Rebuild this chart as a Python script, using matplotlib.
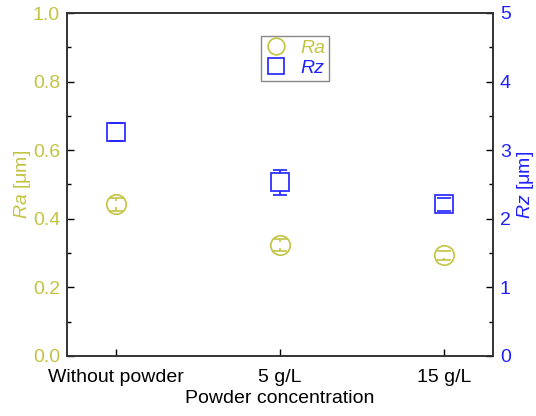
import numpy as np
import matplotlib
matplotlib.use('Agg')
import matplotlib.pyplot as plt
from matplotlib.lines import Line2D

plt.rcParams['font.family'] = ['Liberation Sans', 'DejaVu Sans']
plt.rcParams['mathtext.fontset'] = 'custom'
plt.rcParams['mathtext.rm'] = 'Liberation Sans'
plt.rcParams['mathtext.it'] = 'Liberation Sans:italic'

# dados
categories = ['Without powder', '5 g/L', '15 g/L']
ra_values = [0.442, 0.324, 0.294]
ra_errors = [0.018, 0.017, 0.013]
rz_values = [3.27, 2.53, 2.21]
rz_errors = [0.13, 0.185, 0.10]

cor_ra = '#c3c344'
cor_rz = '#2020ff'

fig = plt.figure(figsize=(5.36, 4.16), dpi=100)
ax_h_px = 343
ax1 = fig.add_axes([67 / 536, 60 / 416, 426 / 536, ax_h_px / 416])
ax2 = ax1.twinx()

x = np.arange(len(categories))

ax1.set_xlim(-0.3, 2.3)
ax1.set_ylim(0, 1.0)
ax2.set_ylim(0, 5)


def pontos(ax, xs, ys, errs, marker, ms, cor, gap_px):
    # marcador vazio + barras de erro que param antes do centro
    ax.plot(xs, ys, ls='none', marker=marker, ms=ms, mfc='none', mec=cor, mew=1.2)
    ax.errorbar(xs, ys, yerr=errs, fmt='none', ecolor=cor, elinewidth=0,
                capsize=5, capthick=1.2)
    y0, y1 = ax.get_ylim()
    gap = gap_px * (y1 - y0) / ax_h_px
    for xi, yi, ei in zip(xs, ys, errs):
        if ei > gap:
            ax.vlines(xi, yi + gap, yi + ei, color=cor, lw=1.2)
            ax.vlines(xi, yi - ei, yi - gap, color=cor, lw=1.2)


pontos(ax1, x, ra_values, ra_errors, 'o', 14, cor_ra, 3)
pontos(ax2, x, rz_values, rz_errors, 's', 12.5, cor_rz, 9)

fs = 14
ax1.set_xticks(x)
ax1.set_xticklabels(categories, fontsize=fs)
ax1.set_yticks(np.arange(0, 1.01, 0.2))
ax1.set_yticklabels([f'{v:.1f}' for v in np.arange(0, 1.01, 0.2)], fontsize=fs, color=cor_ra)
ax1.set_yticks(np.arange(0.1, 1.0, 0.2), minor=True)
ax2.set_yticks(np.arange(0, 6, 1))
ax2.set_yticklabels([str(v) for v in range(6)], fontsize=fs, color=cor_rz)
ax2.set_yticks(np.arange(0.5, 5, 1), minor=True)

ax1.tick_params(axis='both', which='both', direction='in', width=1.0, pad=5)
ax1.tick_params(axis='x', which='major', pad=9)
ax1.tick_params(axis='both', which='major', length=5)
ax1.tick_params(axis='y', which='minor', length=3)
ax2.tick_params(axis='y', which='both', direction='in', width=1.0, pad=5)
ax2.tick_params(axis='y', which='major', length=5)
ax2.tick_params(axis='y', which='minor', length=3)

for ax in (ax1, ax2):
    for sp in ax.spines.values():
        sp.set_linewidth(1.2)
        sp.set_color('#333333')

ax1.set_xlabel('Powder concentration', fontsize=fs, labelpad=3)
ax1.set_ylabel(r'$\it{Ra}$ [μm]', fontsize=fs, color=cor_ra, labelpad=0)
ax2.set_ylabel(r'$\it{Rz}$ [μm]', fontsize=fs, color=cor_rz, labelpad=3)

handles = [Line2D([], [], ls='none', marker='o', ms=12, mfc='none', mec=cor_ra, mew=1.2),
           Line2D([], [], ls='none', marker='s', ms=11, mfc='none', mec=cor_rz, mew=1.2)]
leg = ax1.legend(handles, ['Ra', 'Rz'], loc='upper center',
                 bbox_to_anchor=(0.535, 0.962), fancybox=False, framealpha=1,
                 edgecolor='#888888', fontsize=fs, handlelength=1.1,
                 handletextpad=0.7, borderpad=0.2, labelspacing=0.12)
for txt, c in zip(leg.get_texts(), [cor_ra, cor_rz]):
    txt.set_color(c)
    txt.set_style('italic')

fig.savefig('out.png', dpi=100)
